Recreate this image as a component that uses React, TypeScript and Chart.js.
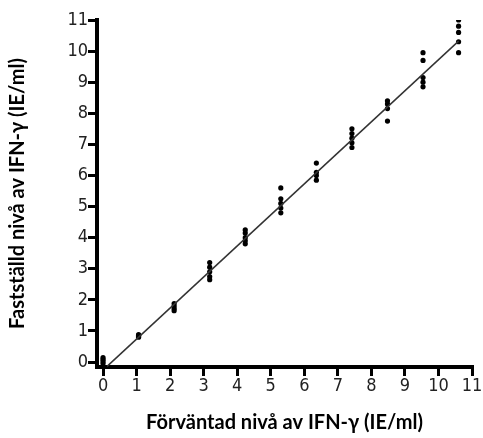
import React, { useEffect, useRef } from "react";
import { Chart, registerables } from "chart.js";

Chart.register(...registerables);

const expectedLevels = [0, 1.06, 2.12, 3.18, 4.24, 5.3, 6.36, 7.42, 8.48, 9.54, 10.6];
const measuredLevels = [
  [-0.05, 0.02, 0.08, 0.14],
  [0.8, 0.83, 0.86, 0.88],
  [1.65, 1.72, 1.8, 1.88],
  [2.65, 2.75, 2.9, 3.05, 3.2],
  [3.8, 3.9, 4.0, 4.15, 4.25],
  [4.8, 4.95, 5.1, 5.25, 5.6],
  [5.85, 6.0, 6.1, 6.4],
  [6.9, 7.05, 7.2, 7.35, 7.5],
  [7.75, 8.15, 8.3, 8.4],
  [8.85, 9.0, 9.15, 9.7, 9.95],
  [9.95, 10.3, 10.6, 10.8, 11.0],
];
const fitX = [0.12, 10.6];
const fitY = [-0.14, 10.32];
const tickValues = [0, 1, 2, 3, 4, 5, 6, 7, 8, 9, 10, 11];

const xTitle = "Förväntad nivå av IFN-γ (IE/ml)";
const yTitle = "Fastställd nivå av IFN-γ (IE/ml)";

export default function App() {
  const ref = useRef<HTMLCanvasElement>(null);
  useEffect(() => {
    if (!ref.current) return;
    const points: { x: number; y: number }[] = [];
    expectedLevels.forEach((x, i) => {
      measuredLevels[i].forEach((y) => points.push({ x, y }));
    });
    const fit = fitX.map((x, i) => ({ x, y: fitY[i] }));
    const titleFont = { family: "Lato, 'Open Sans', sans-serif", size: 20, weight: "bold" as const };
    const tickFont = { family: "'Liberation Sans Narrow', 'DejaVu Sans Condensed', 'Liberation Sans', sans-serif", size: 18 };
    const chart = new Chart(ref.current, {
      type: "scatter",
      data: {
        datasets: [
          {
            type: "line",
            data: fit,
            borderColor: "#333",
            borderWidth: 1.5,
            pointRadius: 0,
            fill: false,
          } as any,
          {
            data: points,
            backgroundColor: "#000",
            borderColor: "#000",
            pointRadius: 2.6,
            borderWidth: 0,
          },
        ],
      },
      options: {
        animation: false,
        responsive: false,
        maintainAspectRatio: false,
        layout: { padding: { top: 20, right: 11, left: 0, bottom: 0 } },
        plugins: { legend: { display: false }, tooltip: { enabled: false } },
        scales: {
          x: {
            type: "linear",
            min: -0.18,
            max: 11,
            afterBuildTicks: (s: any) => {
              s.ticks = tickValues.map((v) => ({ value: v }));
            },
            afterFit: (s: any) => {
              s.height = 71;
            },
            ticks: { color: "#222", font: tickFont, padding: 0, maxRotation: 0, autoSkip: false },
            grid: { drawOnChartArea: false, color: "#000", lineWidth: 3, tickLength: 9, tickWidth: 3 },
            border: { color: "#000", width: 4 },
            title: { display: true, text: xTitle, color: "#000", font: titleFont, padding: { top: 0, bottom: 3 } },
          },
          y: {
            type: "linear",
            min: -0.16,
            max: 11,
            afterBuildTicks: (s: any) => {
              s.ticks = tickValues.map((v) => ({ value: v }));
            },
            afterFit: (s: any) => {
              s.width = 97;
            },
            ticks: { color: "#222", font: tickFont, padding: 0, autoSkip: false },
            grid: { drawOnChartArea: false, color: "#000", lineWidth: 3, tickLength: 9, tickWidth: 3 },
            border: { color: "#000", width: 4 },
            title: { display: true, text: yTitle, color: "#000", font: titleFont, padding: { top: 6, bottom: 0 } },
          },
        },
      },
    });
    return () => chart.destroy();
  }, []);
  return (
    <div style={{ position: "fixed", left: 0, top: 0, width: 483, height: 438, background: "#fff" }}>
      <canvas ref={ref} width={483} height={438} style={{ width: 483, height: 438 }} />
    </div>
  );
}
